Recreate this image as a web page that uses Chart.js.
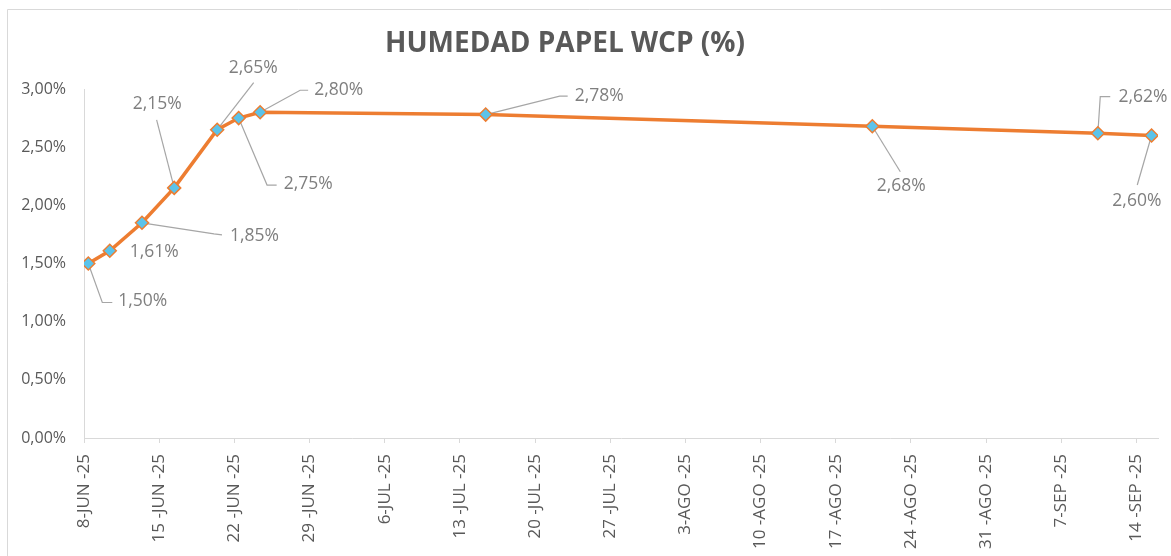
<!DOCTYPE html>
<html>
<head>
<meta charset="utf-8">
<script src="https://cdn.jsdelivr.net/npm/chart.js@4/dist/chart.umd.min.js"></script>
<style>
  html, body { margin: 0; padding: 0; background: #fff; }
  #wrap { width: 1171px; height: 556px; position: relative; }
</style>
</head>
<body>
<div id="wrap"><canvas id="chart"></canvas></div>
<script>
// data
const dates = ['2025-06-08', '2025-06-10', '2025-06-13', '2025-06-16', '2025-06-20', '2025-06-22',
               '2025-06-24', '2025-07-15', '2025-08-20', '2025-09-10', '2025-09-15'];
const humidity = [1.50, 1.61, 1.85, 2.15, 2.65, 2.75, 2.80, 2.78, 2.68, 2.62, 2.60];
const tickDates = ['2025-06-08', '2025-06-15', '2025-06-22', '2025-06-29', '2025-07-06', '2025-07-13',
                   '2025-07-20', '2025-07-27', '2025-08-03', '2025-08-10', '2025-08-17', '2025-08-24',
                   '2025-08-31', '2025-09-07', '2025-09-14'];
const yTicks = [0, 0.5, 1, 1.5, 2, 2.5, 3];
const months = ['ENE', 'FEB', 'MAR', 'ABR', 'MAY', 'JUN', 'JUL', 'AGO', 'SEP', 'OCT', 'NOV', 'DIC'];

const axisStart = '2025-06-08';
const axisEnd = '2025-09-17';
const DAY_OFFSET = 0.4; // excel puts the marker inside the day slot, not on the tick

const dayNum = s => (Date.parse(s + 'T00:00:00Z') - Date.parse(axisStart + 'T00:00:00Z')) / 86400000;
const fmtPct = v => v.toFixed(2).replace('.', ',') + '%';
const fmtDate = n => {
    const d = new Date(Date.parse(axisStart + 'T00:00:00Z') + n * 86400000);
    const day = d.getUTCDate();
    return day + (day > 9 ? ' ' : '') + '-' + months[d.getUTCMonth()] + ' -' + String(d.getUTCFullYear()).slice(2);
};

// label placement, relative to each marker (px): text anchor, align, leader line
const labelLayout = [
    { tx: 30, ty: 38, align: 'left', line: [[14, 39], [24, 39]] },
    { tx: 20, ty: 1, align: 'left', line: null },
    { tx: 88, ty: 13, align: 'left', line: [[72, 11], [80, 12]] },
    { tx: -17, ty: -84, align: 'center', line: [[-17.6, -68]] },
    { tx: 36, ty: -62, align: 'center', line: [[36.5, -47]] },
    { tx: 45, ty: 66, align: 'left', line: [[28.4, 67], [38, 67]] },
    { tx: 54, ty: -22, align: 'left', line: [[40, -22], [48, -22]] },
    { tx: 89, ty: -18.5, align: 'left', line: [[74, -18.5], [82, -18.5]] },
    { tx: 29, ty: 60, align: 'center', line: [[28, 45.5]] },
    { tx: 20.7, ty: -36.5, align: 'left', line: [[2.4, -36.5], [12.4, -36.5]] },
    { tx: -14.7, ty: 65, align: 'center', line: [[-14.3, 49.5]] }
];

const points = dates.map((d, i) => ({ x: dayNum(d) + DAY_OFFSET, y: humidity[i] }));

const chartFrame = {
    id: 'chartFrame',
    beforeDraw(chart) {
        const ctx = chart.ctx;
        ctx.save();
        ctx.fillStyle = '#fff';
        ctx.fillRect(0, 0, chart.width, chart.height);
        ctx.strokeStyle = '#d9d9d9';
        ctx.lineWidth = 1;
        ctx.beginPath();
        ctx.moveTo(7.5, chart.height);
        ctx.lineTo(7.5, 9.5);
        ctx.lineTo(chart.width, 9.5);
        ctx.stroke();
        ctx.fillStyle = '#595959';
        ctx.font = 'bold 28px "Open Sans"';
        ctx.textAlign = 'center';
        ctx.textBaseline = 'middle';
        ctx.fillText('HUMEDAD PAPEL WCP (%)', 565, 44);
        ctx.restore();
    }
};

const dataLabels = {
    id: 'dataLabels',
    beforeDatasetsDraw(chart) {
        const ctx = chart.ctx;
        const meta = chart.getDatasetMeta(0);
        ctx.save();
        ctx.strokeStyle = '#a6a6a6';
        ctx.lineWidth = 1.2;
        meta.data.forEach((pt, i) => {
            const l = labelLayout[i];
            if (!l || !l.line) return;
            ctx.beginPath();
            ctx.moveTo(pt.x, pt.y);
            l.line.forEach(p => ctx.lineTo(pt.x + p[0], pt.y + p[1]));
            ctx.stroke();
        });
        ctx.restore();
    },
    afterDatasetsDraw(chart) {
        const ctx = chart.ctx;
        const meta = chart.getDatasetMeta(0);
        ctx.save();
        ctx.fillStyle = '#7f7f7f';
        ctx.font = '17.5px "Open Sans"';
        ctx.textBaseline = 'middle';
        meta.data.forEach((pt, i) => {
            const l = labelLayout[i];
            ctx.textAlign = l.align;
            ctx.fillText(fmtPct(humidity[i]), pt.x + l.tx, pt.y + l.ty);
        });
        ctx.restore();
    }
};

new Chart(document.getElementById('chart'), {
    type: 'line',
    data: {
        datasets: [{
            label: 'Humedad',
            data: points,
            borderColor: '#ed7d31',
            borderWidth: 3.5,
            tension: 0,
            pointStyle: 'rectRot',
            pointRadius: 6.5,
            pointBackgroundColor: '#5bc3ea',
            pointBorderColor: '#ed7d31',
            pointBorderWidth: 1.5
        }]
    },
    options: {
        responsive: true,
        maintainAspectRatio: false,
        animation: false,
        layout: { padding: { top: 89, right: 13, left: 0, bottom: 0 } },
        plugins: {
            legend: { display: false },
            tooltip: { enabled: false }
        },
        scales: {
            x: {
                type: 'linear',
                min: 0,
                max: dayNum(axisEnd) - 1,
                afterBuildTicks: scale => { scale.ticks = tickDates.map(d => ({ value: dayNum(d) })); },
                afterFit: scale => { scale.height = 118; },
                grid: { drawOnChartArea: false, color: '#d9d9d9', tickLength: 5 },
                border: { color: '#d9d9d9' },
                ticks: {
                    autoSkip: false,
                    minRotation: 90,
                    maxRotation: 90,
                    padding: 11,
                    color: '#595959',
                    font: { family: 'Open Sans', size: 17 },
                    callback: v => fmtDate(v)
                }
            },
            y: {
                min: 0,
                max: 3,
                afterBuildTicks: scale => { scale.ticks = yTicks.map(v => ({ value: v })); },
                afterFit: scale => { scale.width = 84; },
                grid: { display: false, drawTicks: false },
                border: { display: true, color: '#d9d9d9' },
                ticks: {
                    padding: 18,
                    color: '#595959',
                    font: { family: 'Open Sans', size: 16 },
                    callback: v => fmtPct(v)
                }
            }
        }
    },
    plugins: [chartFrame, dataLabels]
});
</script>
</body>
</html>
